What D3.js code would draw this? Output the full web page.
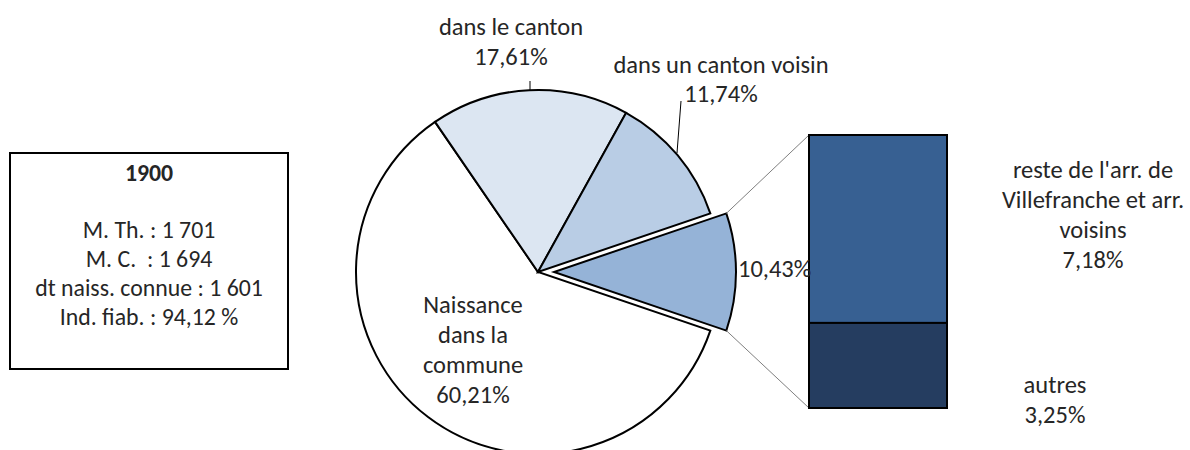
<!DOCTYPE html>
<html>
<head>
<meta charset="utf-8">
<script src="https://cdn.jsdelivr.net/npm/d3@7"></script>
<style>
  html, body { margin: 0; padding: 0; background: #fff; }
  svg text { font-family: Carlito, Calibri, Lato, sans-serif; fill: #262626; white-space: pre; }
</style>
</head>
<body>
<svg id="chart" width="1190" height="450"></svg>
<script>
// Origine des conjoints, 1900 : camembert avec barre de détail
const pieLabels = ["autres lieux", "Naissance dans la commune", "dans le canton", "dans un canton voisin"];
const pieValues = [10.43, 60.21, 17.61, 11.74];
const pieColors = ["#95b3d7", "#ffffff", "#dce6f2", "#b9cde5"];

const barLabels = ["reste de l'arr. de Villefranche et arr. voisins", "autres"];
const barValues = [7.18, 3.25];
const barColors = ["#376092", "#253d60"];

const boxTitle = "1900";
const boxLines = ["M. Th. : 1 701", "M. C.  : 1 694", "dt naiss. connue : 1 601", "Ind. fiab. : 94,12 %"];

const fmt = v => d3.format(".2f")(v).replace(".", ",") + "%";

const svg = d3.select("#chart");
const FS = 24.5;      // étiquettes du graphique
const FS_BOX = 23.8;  // texte de l'encadré

// ---- Camembert ----
const cx = 538, cy = 272, R = 182, explode = 16;
const otherShare = pieValues[0] / d3.sum(pieValues);
const start = Math.PI / 2 - otherShare * Math.PI;
const pie = d3.pie().sort(null).value(d => d).startAngle(start).endAngle(start + 2 * Math.PI);
const arcs = pie(pieValues);
const arc = d3.arc().innerRadius(0).outerRadius(R);

const g = svg.append("g").attr("transform", `translate(${cx},${cy})`);
g.selectAll("path.slice")
  .data(arcs)
  .join("path")
  .attr("class", "slice")
  .attr("d", arc)
  .attr("transform", (d, i) => {
    if (i !== 0) return null;
    const a = (d.startAngle + d.endAngle) / 2;
    return `translate(${explode * Math.sin(a)},${-explode * Math.cos(a)})`;
  })
  .attr("fill", (d, i) => pieColors[i])
  .attr("stroke", "#000")
  .attr("stroke-width", 2)
  .attr("stroke-linejoin", "miter");

// ---- Barre de détail ----
const barX = 809, barW = 138, barTop = 135, barBottom = 408;
const y = d3.scaleLinear().domain([0, d3.sum(barValues)]).range([barTop, barBottom]);
const stacked = [];
let acc = 0;
barValues.forEach((v, i) => { stacked.push({ v, i, y0: acc, y1: acc + v }); acc += v; });

// connecteurs entre la part détachée et la barre
const other = arcs[0];
const oa = (other.startAngle + other.endAngle) / 2;
const ox = explode * Math.sin(oa), oy = -explode * Math.cos(oa);
const pt = a => [cx + ox + R * Math.sin(a), cy + oy - R * Math.cos(a)];
const pTop = pt(other.startAngle), pBot = pt(other.endAngle);
svg.append("line")
  .attr("x1", pTop[0]).attr("y1", pTop[1]).attr("x2", barX).attr("y2", y(0))
  .attr("stroke", "#7f7f7f").attr("stroke-width", 1);
svg.append("line")
  .attr("x1", pBot[0]).attr("y1", pBot[1]).attr("x2", barX).attr("y2", y(d3.sum(barValues)))
  .attr("stroke", "#7f7f7f").attr("stroke-width", 1);

svg.selectAll("rect.seg")
  .data(stacked)
  .join("rect")
  .attr("class", "seg")
  .attr("x", barX)
  .attr("y", d => y(d.y0))
  .attr("width", barW)
  .attr("height", d => y(d.y1) - y(d.y0))
  .attr("fill", d => barColors[d.i])
  .attr("stroke", "#000")
  .attr("stroke-width", 2);

// ---- Étiquettes ----
function multiline(x, baselines, lines, anchor = "middle", weight = "normal", size = FS) {
  const t = svg.append("text")
    .attr("text-anchor", anchor)
    .style("font-size", size + "px")
    .style("font-weight", weight);
  lines.forEach((l, k) => {
    t.append("tspan").attr("x", x).attr("y", baselines[k]).text(l);
  });
  return t;
}

// dans le canton
multiline(511, [35, 65], ["dans le canton", fmt(pieValues[2])]);
svg.append("line").attr("x1", 530).attr("y1", 81).attr("x2", 530).attr("y2", 91)
  .attr("stroke", "#000").attr("stroke-width", 1);

// dans un canton voisin
multiline(721, [73, 102], ["dans un canton voisin", fmt(pieValues[3])]);
svg.append("line").attr("x1", 677).attr("y1", 153).attr("x2", 681).attr("y2", 101)
  .attr("stroke", "#000").attr("stroke-width", 1);

// part regroupée
multiline(738, [277], [fmt(pieValues[0])], "start");

// naissance dans la commune
multiline(473, [313, 343, 373, 403], ["Naissance", "dans la", "commune", fmt(pieValues[1])]);

// détail de la barre
multiline(1093, [178, 208, 238, 268], ["reste de l'arr. de", "Villefranche et arr.", "voisins", fmt(barValues[0])]);
multiline(1055, [393, 423], [barLabels[1], fmt(barValues[1])]);

// ---- Encadré ----
svg.append("rect")
  .attr("x", 10).attr("y", 153).attr("width", 278).attr("height", 216)
  .attr("fill", "#fff").attr("stroke", "#000").attr("stroke-width", 2);
multiline(149, [181], [boxTitle], "middle", "bold", FS_BOX);
multiline(149, [238, 267, 296, 325], boxLines, "middle", "normal", FS_BOX);
</script>
</body>
</html>
